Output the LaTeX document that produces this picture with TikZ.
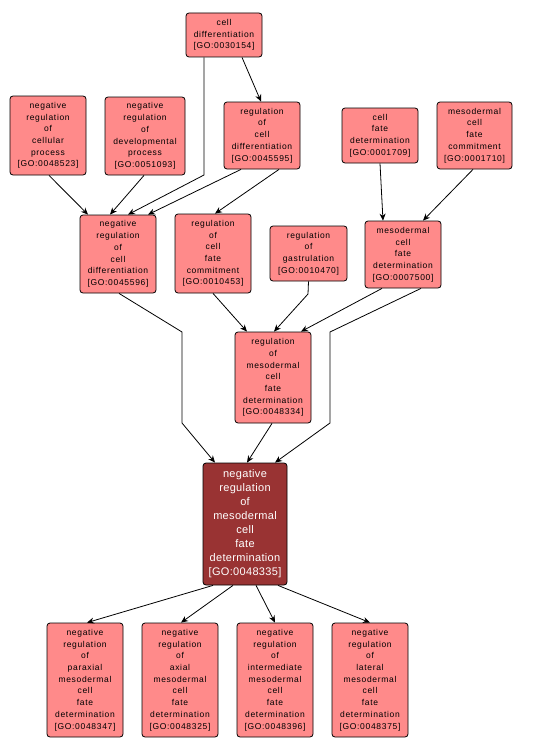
\documentclass[tikz,border=0pt]{standalone}
\usepackage{fontspec}
\usetikzlibrary{arrows.meta}
\newfontfamily\gofam[LetterSpace=8]{Liberation Sans}
\newfontfamily\gomainfam[LetterSpace=3]{Liberation Sans}
\newcommand\gofont{\gofam\fontsize{8.5}{11.7}\selectfont}
\newcommand\gomainfont{\gomainfam\fontsize{11}{14}\selectfont}
\definecolor{gopink}{HTML}{FF8A8A}
\definecolor{godark}{HTML}{993333}
\tikzset{
  go/.style={draw=black, fill=gopink, rounded corners=3pt, line width=0.8pt, align=center, inner sep=0pt, font=\gofont, text=black, minimum width=76pt},
  gomain/.style={go, fill=godark, text=white, font=\gomainfont},
  edge/.style={draw=black, line width=0.8pt, -{Stealth[length=7pt,width=6pt]}}
}
\begin{document}
\begin{tikzpicture}[x=1pt,y=-1pt]
\useasboundingbox (0,0) rectangle (536,752);
\node[go, minimum height=44pt] (cd) at (224,35) {cell\\differentiation\\{[GO:0030154]}};
\node[go, minimum height=79pt] (nrcp) at (48,135.5) {negative\\regulation\\of\\cellular\\process\\{[GO:0048523]}};
\node[go, minimum height=78pt, minimum width=80pt] (nrdp) at (145,136) {negative\\regulation\\of\\developmental\\process\\{[GO:0051093]}};
\node[go, minimum height=67pt] (rcd) at (262,135.5) {regulation\\of\\cell\\differentiation\\{[GO:0045595]}};
\node[go, minimum height=55pt] (cfd) at (380,135.5) {cell\\fate\\determination\\{[GO:0001709]}};
\node[go, minimum height=67pt, minimum width=75pt] (mcfc) at (474.5,135.5) {mesodermal\\cell\\fate\\commitment\\{[GO:0001710]}};
\node[go, minimum height=78pt] (nrcd) at (118,254) {negative\\regulation\\of\\cell\\differentiation\\{[GO:0045596]}};
\node[go, minimum height=79pt] (rcfc) at (213,253.5) {regulation\\of\\cell\\fate\\commitment\\{[GO:0010453]}};
\node[go, minimum height=55pt, minimum width=77pt] (rg) at (308.5,253.5) {regulation\\of\\gastrulation\\{[GO:0010470]}};
\node[go, minimum height=67pt] (mcfdet) at (403,254.5) {mesodermal\\cell\\fate\\determination\\{[GO:0007500]}};
\node[go, minimum height=91pt] (rmcfd) at (273,377.5) {regulation\\of\\mesodermal\\cell\\fate\\determination\\{[GO:0048334]}};
\node[gomain, minimum height=122pt, minimum width=84pt] (main) at (245,524) {negative\\regulation\\of\\mesodermal\\cell\\fate\\determination\\{[GO:0048335]}};
\node[go, minimum height=114pt] (b1) at (85,680) {negative\\regulation\\of\\paraxial\\mesodermal\\cell\\fate\\determination\\{[GO:0048347]}};
\node[go, minimum height=114pt] (b2) at (180,680) {negative\\regulation\\of\\axial\\mesodermal\\cell\\fate\\determination\\{[GO:0048325]}};
\node[go, minimum height=114pt] (b3) at (275,680) {negative\\regulation\\of\\intermediate\\mesodermal\\cell\\fate\\determination\\{[GO:0048396]}};
\node[go, minimum height=114pt] (b4) at (370,680) {negative\\regulation\\of\\lateral\\mesodermal\\cell\\fate\\determination\\{[GO:0048375]}};
% waypoints
\coordinate (w1) at (204,175);
\coordinate (w2) at (308,294);
\coordinate (w3) at (330,332);
\coordinate (w4) at (330,423);
\coordinate (w5) at (182,332);
\coordinate (w6) at (182,423);
% edges
\draw[edge] ([xshift=18pt]cd.south) -- ([xshift=-1pt]rcd.north);
\draw[edge] ([xshift=-20pt]cd.south) -- (w1) -- ([xshift=10pt]nrcd.north);
\draw[edge] ([xshift=-21pt]rcd.south) -- ([xshift=30pt]nrcd.north);
\draw[edge] ([xshift=17pt]rcd.south) -- ([xshift=2pt]rcfc.north);
\draw[edge] ([xshift=1pt]nrcp.south) -- ([xshift=-30pt]nrcd.north);
\draw[edge] ([xshift=-1pt]nrdp.south) -- ([xshift=-8pt]nrcd.north);
\draw[edge] (cfd.south) -- ([xshift=-20pt]mcfdet.north);
\draw[edge] ([xshift=-1.5pt]mcfc.south) -- ([xshift=20pt]mcfdet.north);
\draw[edge] (rcfc.south) -- ([xshift=-26pt]rmcfd.north);
\draw[edge] (rg.south) -- (w2) -- ([xshift=1pt]rmcfd.north);
\draw[edge] ([xshift=-21pt]mcfdet.south) -- ([xshift=28pt]rmcfd.north);
\draw[edge] ([xshift=18pt]mcfdet.south) -- (w3) -- (w4) -- ([xshift=30pt]main.north);
\draw[edge] ([xshift=1pt]nrcd.south) -- (w5) -- (w6) -- ([xshift=-30pt]main.north);
\draw[edge] ([xshift=-1pt]rmcfd.south) -- ([xshift=2pt]main.north);
\draw[edge] ([xshift=-32pt]main.south) -- ([xshift=2pt]b1.north);
\draw[edge] ([xshift=-12pt]main.south) -- ([xshift=1pt]b2.north);
\draw[edge] ([xshift=11pt]main.south) -- (b3.north);
\draw[edge] ([xshift=33pt]main.south) -- (b4.north);
\end{tikzpicture}
\end{document}
